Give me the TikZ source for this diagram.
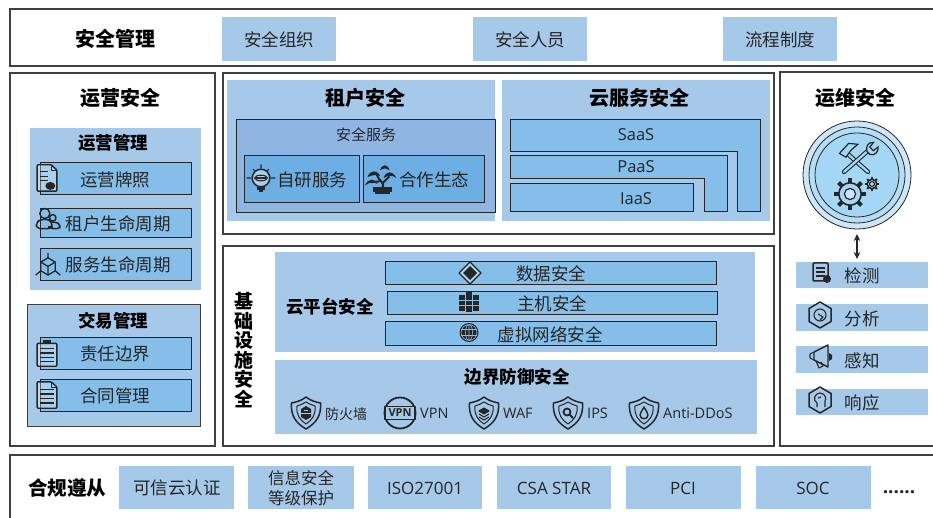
\documentclass[tikz,border=0pt]{standalone}
\usepackage{fontspec}
\setmainfont{Noto Sans CJK SC}
\newfontfamily\lat{Open Sans}
\usetikzlibrary{arrows.meta}
\definecolor{panel}{HTML}{A6C9EA}
\definecolor{rowc}{HTML}{85BEE8}
\definecolor{inner}{HTML}{8FB6E3}
\definecolor{subc}{HTML}{6DAFE4}
\definecolor{ink}{HTML}{262626}
\definecolor{edge}{HTML}{404040}
\definecolor{ringa}{HTML}{CFE6F6}
\definecolor{ringb}{HTML}{A3D7F5}
\tikzset{
 frame/.style={draw=edge,line width=1.3pt,fill=white,inner sep=0pt,outer sep=0pt},
 flat/.style={fill=panel,inner sep=0pt,outer sep=0pt},
 flatb/.style={draw=edge,line width=1pt,fill=panel,inner sep=0pt,outer sep=0pt},
 rowbox/.style={draw=ink,line width=.9pt,fill=rowc,inner sep=0pt,outer sep=0pt},
 innerbox/.style={draw=ink,line width=.9pt,fill=inner,inner sep=0pt,outer sep=0pt},
 subbox/.style={draw=ink,line width=.9pt,fill=subc,inner sep=0pt,outer sep=0pt},
 lshape/.style={draw=ink,line width=.9pt,fill=rowc},
 title/.style={font=\fontsize{20}{22}\selectfont\bfseries,text=black,inner sep=0pt,yshift=-1pt},
 head/.style={font=\fontsize{17.5}{20}\selectfont\bfseries,text=black,inner sep=0pt,yshift=-1pt},
 lab/.style={font=\fontsize{17.5}{20}\selectfont,text=ink,inner sep=0pt,yshift=-1pt},
 small/.style={font=\fontsize{15}{17}\selectfont,text=ink,inner sep=0pt,yshift=-1pt},
 tiny/.style={font=\fontsize{13.5}{16}\selectfont,text=ink,inner sep=0pt,yshift=-.5pt},
 ic/.style={draw=ink,line width=1.1pt,line join=round},
}
% name, style, x1, y1, x2, y2
\newcommand\bx[7][]{\node[#3,minimum width={(#6-#4)*1pt},minimum height={(#7-#5)*1pt},#1] (#2) at ({(#4+#6)/2},{(#5+#7)/2}) {};}
\newcommand\shieldshape{\draw[ic,line width=1.5pt] (0,-16) .. controls (-5,-12) and (-10,-11) .. (-14.5,-10) .. controls (-15.5,3) and (-10,10) .. (0,16) .. controls (10,10) and (15.5,3) .. (14.5,-10) .. controls (10,-11) and (5,-12) .. (0,-16) -- cycle;
 \draw[ic,line width=1pt] (0,-11) .. controls (-3,-9) and (-6,-8) .. (-9,-7) .. controls (-10,2) and (-6,7) .. (0,11) .. controls (6,7) and (10,2) .. (9,-7) .. controls (6,-8) and (3,-9) .. (0,-11) -- cycle;}
\newcommand\hexshape{\draw[ic,line width=1.5pt] (0,-13) -- (11,-6.5) -- (11,6.5) -- (0,13) -- (-11,6.5) -- (-11,-6.5) -- cycle;}
\newcommand\icdoc[2]{\begin{scope}[shift={(#1,#2)},xscale=1.1,yscale=.88]
 \draw[ic,line width=1.4pt,fill=white,fill opacity=.3,rounded corners=1pt] (-9,-15) -- (4,-15) -- (9,-9) -- (9,15) -- (-9,15) -- cycle;
 \draw[ic] (4,-15) -- (4,-9) -- (9,-9);
 \foreach \y in {-6,-1,4,9} \draw[ic,line width=1.3pt] (-6,\y) -- (6,\y);
\end{scope}}
\newcommand\iclic[2]{\begin{scope}[shift={(#1,#2)},xscale=1.1,yscale=.88]
 \draw[ic,line width=1.4pt,fill=white,fill opacity=.3,rounded corners=1pt] (-9,-15) -- (4,-15) -- (9,-9) -- (9,15) -- (-9,15) -- cycle;
 \draw[ic] (4,-15) -- (4,-9) -- (9,-9);
 \foreach \y in {-7,-2,3} \draw[ic] (-6,\y) -- (1,\y);
 \fill[ink] (3,9) circle (4.5);
\end{scope}}
\newcommand\icclipb[2]{\begin{scope}[shift={(#1,#2)},xscale=1.1,yscale=.88]
 \draw[ic,line width=1.4pt,fill=white,fill opacity=.3,rounded corners=1pt] (-9,-11) rectangle (9,15);
 \fill[ink] (-4,-15) rectangle (4,-10);
 \foreach \y in {-5,0,5,10} \draw[ic,line width=1.3pt] (-6,\y) -- (6,\y);
\end{scope}}
\newcommand\icpeople[2]{\begin{scope}[shift={(#1,#2)},scale=.72]
 \draw[ic,line width=1.4pt] (-3,-9) circle (7);
 \draw[ic,line width=1.4pt] (8,-3) circle (4.5);
 \draw[ic,line width=1.4pt,rounded corners=4pt] (-15,12) -- (-15,3) -- (-8,-1) -- (2,-1) -- (7,3) -- (7,12) -- cycle;
 \draw[ic,line width=1.4pt,rounded corners=3pt] (7,3) -- (14,3) -- (18,7) -- (18,12) -- (7,12);
 \fill[ink] (1,8) rectangle (8,12);
\end{scope}}
\newcommand\iccube[2]{\begin{scope}[shift={(#1,#2)},scale=.72]
 \draw[ic,line width=1.3pt] (0,-10) -- (10,-4) -- (10,8) -- (0,14) -- (-10,8) -- (-10,-4) -- cycle;
 \draw[ic,line width=1.3pt] (-10,-4) -- (0,2) -- (10,-4) (0,2) -- (0,14);
 \draw[ic,line width=1.3pt] (0,-17) -- (0,-10) (-10,8) -- (-17,14) (10,8) -- (17,14);
\end{scope}}
\newcommand\icbulb[2]{\begin{scope}[shift={(#1,#2)},scale=.8]
 \draw[ic] (-18,0) -- (-12,0) (12,0) -- (18,0) (0,-17) -- (0,-12) (-10,-11) -- (-7,-8) (10,-11) -- (7,-8);
 \draw[ic,fill=white,fill opacity=.4,line width=1.5pt] (0,0) circle (11);
 \draw[ic] (0,0) ellipse (8 and 3.5);
 \fill[ink] (-6,-1.5) rectangle (6,1.5);
 \fill[ink] (-5,11) rectangle (5,15);
 \fill[ink] (-3,15) rectangle (3,18);
\end{scope}}
\newcommand\icbonsai[2]{\begin{scope}[shift={(#1,#2)},scale=.85]
 \fill[ink] (-10,11) rectangle (13,16);
 \draw[ink,line width=1.6pt] (-7,18) -- (10,18);
 \draw[ink,line width=2pt] (2,11) .. controls (5,6) and (-3,3) .. (-5,-4) (2,6) -- (10,-2) (-2,4) -- (-12,5);
 \fill[ink] (-16,-1) .. controls (-13,-10) and (-4,-10) .. (-1,-2) .. controls (-6,-5) and (-11,-3) .. (-16,-1);
 \fill[ink] (-19,9) .. controls (-15,0) and (-8,0) .. (-4,7) .. controls (-9,4) and (-14,5) .. (-19,9);
 \fill[ink] (3,0) .. controls (6,-9) and (14,-9) .. (18,0) .. controls (13,-4) and (8,-3) .. (3,0);
 \fill[ink] (-1,-9) .. controls (1,-17) and (8,-17) .. (10,-9) .. controls (6,-12) and (3,-12) .. (-1,-9);
\end{scope}}
\newcommand\icgear[4]{\begin{scope}[shift={(#1,#2)}]
 \foreach \a in {0,45,...,315} \draw[ink,line width=#4,rotate=\a] (0,{#3*.72}) -- (0,{#3*1.15});
 \draw[ink,line width=1.6pt,fill=ringb] (0,0) circle ({#3*.8});
 \draw[ink,line width=1.2pt,fill=ringa] (0,0) circle ({#3*.4});
\end{scope}}
\begin{document}
\begin{tikzpicture}[x=1pt,y=-1pt]
\useasboundingbox (0,0) rectangle (933,518);
% frames: the long ones run off the right and bottom edges of the picture
\begin{scope}
\clip (0,0) rectangle (933,518);
\bx{topf}{frame}{10}{9}{945}{66}
\bx{leftf}{frame}{10}{73}{215}{446}
\bx{midf}{frame}{223}{73}{774}{234}
\bx{basef}{frame}{223}{246}{774}{446}
\bx{rightf}{frame}{780}{72}{945}{446}
\bx{botf}{frame}{10}{455}{945}{530}
\end{scope}
% top
\node[title] (tt) at (115,38) {安全管理};
\bx{t1}{flat}{222}{17}{336}{61}
\bx{t2}{flat}{473}{17}{587}{61}
\bx{t3}{flat}{723}{17}{837}{61}
\node[lab] (t1l) at (279,39) {安全组织};
\node[lab] (t2l) at (530,39) {安全人员};
\node[lab] (t3l) at (780,39) {流程制度};
% left
\node[title] (lt) at (120,97) {运营安全};
\bx{op}{flat}{30}{128}{201}{290}
\node[head] (opt) at (113,142) {运营管理};
\bx{r1}{rowbox}{40}{162}{191}{194}
\bx{r2}{rowbox}{40}{208}{191}{237}
\bx{r3}{rowbox}{40}{248}{191}{280}
\node[lab] (r1l) at (115,179) {运营牌照};
\node[lab] (r2l) at (118,223) {租户生命周期};
\node[lab] (r3l) at (118,264) {服务生命周期};
\iclic{47}{178}
\icpeople{47}{220}
\iccube{48}{265}
\bx{tr}{flatb}{27}{304}{200}{426}
\node[head] (trt) at (113,320) {交易管理};
\bx{r4}{rowbox}{40}{337}{191}{369}
\bx{r5}{rowbox}{40}{379}{191}{411}
\node[lab] (r4l) at (115,353) {责任边界};
\node[lab] (r5l) at (115,395) {合同管理};
\icclipb{47}{353}
\icdoc{47}{395}
% tenant
\bx{ten}{flat}{227}{80}{495}{221}
\node[title] (tent) at (365,97) {租户安全};
\bx{sec}{innerbox}{236}{119}{495}{212}
\node[small] (sect) at (366,134) {安全服务};
\bx{s1}{subbox}{244}{155}{359}{202}
\bx{s2}{subbox}{363}{155}{484}{202}
\node[lab] (s1l) at (312,179) {自研服务};
\node[lab] (s2l) at (434,179) {合作生态};
\icbulb{261}{178}
\icbonsai{381}{178}
% cloud
\bx{cl}{flat}{502}{80}{770}{221}
\node[title] (clt) at (639,97) {云服务安全};
\draw[lshape] (510,119) -- (760,119) -- (760,211) -- (737,211) -- (737,151) -- (510,151) -- cycle;
\draw[lshape] (510,155) -- (727,155) -- (727,211) -- (704,211) -- (704,178) -- (510,178) -- cycle;
\draw[lshape] (510,183) rectangle (693,211);
\node[lab,font=\fontsize{16.5}{20}\selectfont\lat] (saas) at (636,134) {SaaS};
\node[lab,font=\fontsize{16.5}{20}\selectfont\lat] (paas) at (636,166) {PaaS};
\node[lab,font=\fontsize{16.5}{20}\selectfont\lat] (iaas) at (636,198) {IaaS};
% right
\node[title] (rt) at (855,97) {运维安全};
\node[circle,draw=ink,line width=.8pt,fill=ringa,minimum size=108pt,inner sep=0pt,outer sep=0pt] (ring) at (857,175) {};
\draw[ink,line width=.8pt,fill=ringb!60!ringa] (857,175) circle (48);
\draw[ink,line width=.8pt,fill=ringb] (857,175) circle (42);
\begin{scope}[shift={(856,159)},scale=.92]
 \draw[ink,line width=4.5pt,line cap=round] (-13,-9) -- (13,14);
 \draw[ringb,line width=2.3pt,line cap=round] (-13,-9) -- (13,14);
 \draw[ink,line width=4.5pt,line cap=round] (13,-9) -- (-13,14);
 \draw[ringb,line width=2.3pt,line cap=round] (13,-9) -- (-13,14);
 \draw[ink,line width=1.2pt,fill=ringb] (-18,-6) -- (-8,-17) -- (2,-16) -- (-5,-10) -- (-11,-2) -- cycle;
 \draw[ink,line width=1.2pt,fill=ringb] (12,-8) .. controls (10,-14) and (14,-19) .. (19,-18) -- (15,-13) -- (19,-9) -- (24,-13) .. controls (25,-8) and (20,-3) .. (15,-5) -- cycle;
\end{scope}
\icgear{850}{194}{14}{4pt}
\icgear{872}{184}{6}{1.8pt}
\bx{d1}{flat}{796}{262}{928}{288}
\bx{d2}{flat}{796}{304}{928}{331}
\bx{d3}{flat}{796}{346}{928}{373}
\bx{d4}{flat}{796}{389}{928}{415}
\draw[{Stealth[length=7pt,width=6.5pt]}-{Stealth[length=7pt,width=6.5pt]},ink,line width=1.3pt,shorten <=5pt,shorten >=3pt] (ring.south) -- (ring.south |- d1.north);
\node[lab] (d1l) at (862,275) {检测};
\node[lab] (d2l) at (862,318) {分析};
\node[lab] (d3l) at (862,360) {感知};
\node[lab] (d4l) at (862,402) {响应};
\begin{scope}[shift={(821,272)}]
 \draw[ic,line width=1.5pt,rounded corners=1pt] (-8,-9) rectangle (7,9);
 \foreach \y in {-4,0,4} \draw[ic] (-5,\y) -- (4,\y);
 \fill[ink] (6,7) circle (4);
\end{scope}
\begin{scope}[shift={(820,315)}]
 \hexshape
 \draw[ic] (0,0) circle (6);
 \draw[ic,fill=panel] (-2,-1) -- (3,2) -- (0,5);
\end{scope}
\begin{scope}[shift={(821,357)}]
 \draw[ic,line width=1.4pt] (-7,-5) -- (7,-12) -- (7,10) -- (-7,3) -- (-7,-5);
 \draw[ic] (-7,-5) -- (-11,-3) -- (-11,1) -- (-7,3) (-5,4) -- (-2,11) -- (2,9) -- (0,5);
 \fill[ink] (8,-4) -- (11,-2) -- (11,2) -- (8,4) -- cycle;
\end{scope}
\begin{scope}[shift={(820,400)}]
 \hexshape
 \draw[ic] (-3,7) -- (-3,3) .. controls (-8,0) and (-5,-7) .. (0,-7) .. controls (5,-7) and (7,-1) .. (5,1) -- (5,7);
 \draw[ic] (-2,-2) -- (1,-3);
\end{scope}
% base
\node[head,align=center,font=\fontsize{19}{19.6}\selectfont\bfseries] (bt) at (244,349) {基\\础\\设\\施\\安\\全};
\bx{cp}{flat}{275}{252}{755}{352}
\node[head] (cpt) at (330,306) {云平台安全};
\bx{c1}{rowbox}{385}{261}{716}{284}
\bx{c2}{rowbox}{387}{291}{717}{314}
\bx{c3}{rowbox}{385}{321}{716}{345}
\node[lab] (c1l) at (551,273) {数据安全};
\node[lab] (c2l) at (552,303) {主机安全};
\node[lab] (c3l) at (550,334) {虚拟网络安全};
\begin{scope}[shift={(470,273)}]
 \draw[ic,fill=white,fill opacity=.35] (0,-11) -- (11,0) -- (0,11) -- (-11,0) -- cycle;
 \fill[ink] (0,-7) -- (7,0) -- (0,7) -- (-7,0) -- cycle;
\end{scope}
\begin{scope}[shift={(469,302)}]
 \fill[ink] (-10,-7) rectangle (-4,9);
 \fill[ink] (-3,-10) rectangle (3,10);
 \fill[ink] (4,-7) rectangle (10,9);
 \draw[rowc,line width=.8pt] (-10,-2) -- (10,-2) (-10,3) -- (10,3);
\end{scope}
\begin{scope}[shift={(469,332.5)}]
 \fill[ink] (0,0) circle (9.5);
 \draw[rowc,line width=.6pt] (0,0) circle (8) (0,0) ellipse (3.5 and 8) (-8,-3) -- (8,-3) (-8,3) -- (8,3) (0,-8) -- (0,8);
\end{scope}
\bx{bd}{flat}{275}{360}{757}{434}
\node[head] (bdt) at (517,376) {边界防御安全};
\begin{scope}[shift={(306,413)}]
 \shieldshape
 \fill[ink] (-5,-4) -- (0,-7) -- (5,-4) -- (5,4) -- (0,7) -- (-5,4) -- cycle;
 \draw[panel,line width=.7pt] (-5,0) -- (5,0) (-2,-2.5) -- (2,-2.5);
\end{scope}
\begin{scope}[shift={(400,413)}]
 \draw[ic,line width=1.8pt] (0,0) circle (15.5);
 \draw[ic,fill=panel] (-15,-6.5) -- (15,-6.5) -- (15,6.5) -- (-15,6.5) -- cycle;
 \node[font=\fontsize{11}{12}\selectfont\lat\bfseries,text=ink,inner sep=0pt] (vpnic) at (0,0) {VPN};
\end{scope}
\begin{scope}[shift={(484,413)}]
 \shieldshape
 \draw[ic,fill=ink] (0,-5) -- (5,-2) -- (0,1) -- (-5,-2) -- cycle;
 \draw[ic] (-5,1) -- (0,4) -- (5,1) (-5,4) -- (0,7) -- (5,4);
\end{scope}
\begin{scope}[shift={(568,413)}]
 \shieldshape
 \draw[ic,line width=1.8pt] (-1,-1) circle (3.5) (2,2) -- (5,5);
\end{scope}
\begin{scope}[shift={(644,413)}]
 \shieldshape
 \draw[ic,line width=1.4pt] (0,-6) .. controls (-2,-2) and (-4,0) .. (-4,2) .. controls (-4,7) and (4,7) .. (4,2) .. controls (4,0) and (2,-2) .. (0,-6) -- cycle;
\end{scope}
\node[tiny,anchor=west,font=\fontsize{14}{16}\selectfont] (fw) at (325,414) {防火墙};
\node[tiny,anchor=west,font=\fontsize{14.5}{16}\selectfont\lat] (vpn) at (420,413) {VPN};
\node[tiny,anchor=west,font=\fontsize{14.5}{16}\selectfont\lat] (waf) at (503,413) {WAF};
\node[tiny,anchor=west,font=\fontsize{14.5}{16}\selectfont\lat] (ips) at (587,413) {IPS};
\node[tiny,anchor=west,font=\fontsize{14.5}{16}\selectfont\lat] (ddos) at (663,413) {Anti-DDoS};
% bottom
\node[title,font=\fontsize{19.5}{22}\selectfont\bfseries] (bot) at (67,487) {合规遵从};
\bx{b1}{flat}{119}{466}{234}{509}
\bx{b2}{flat}{248}{466}{354}{509}
\bx{b3}{flat}{368}{466}{482}{509}
\bx{b4}{flat}{497}{466}{611}{509}
\bx{b5}{flat}{626}{466}{741}{509}
\bx{b6}{flat}{756}{466}{871}{509}
\node[lab] (b1l) at (177,487) {可信云认证};
\node[lab,align=center,font=\fontsize{16.5}{20.5}\selectfont] (b2l) at (301,487) {信息安全\\等级保护};
\node[lab,font=\fontsize{17}{20}\selectfont\lat] (b3l) at (425,487) {ISO27001};
\node[lab,font=\fontsize{17}{20}\selectfont\lat] (b4l) at (554,487) {CSA STAR};
\node[lab,font=\fontsize{17}{20}\selectfont\lat] (b5l) at (683,487) {PCI};
\node[lab,font=\fontsize{17}{20}\selectfont\lat] (b6l) at (813,487) {SOC};
\node[lab,font=\fontsize{19}{20}\selectfont\lat\bfseries] (dots) at (899,491) {......};
\end{tikzpicture}
\end{document}
